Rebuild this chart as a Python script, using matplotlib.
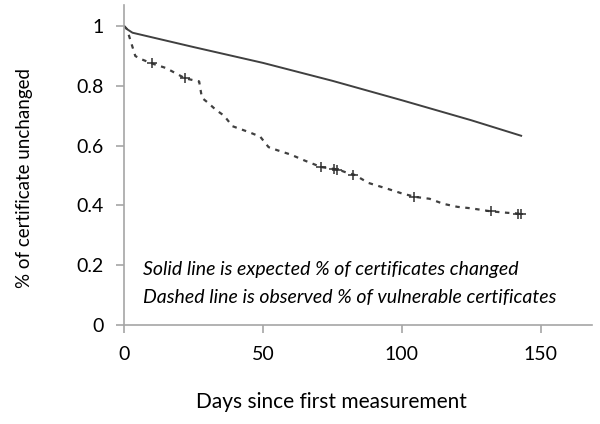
import matplotlib
matplotlib.use("Agg")
import matplotlib.pyplot as plt

# expected curve (solid)
exp_days = [0, 1, 3, 25, 50, 75, 100, 125, 143]
exp_vals = [1.0, 0.99, 0.978, 0.93, 0.877, 0.817, 0.752, 0.685, 0.633]

# observed curve (dashed)
obs_days = [0, 1, 3, 4, 6, 10, 15, 22, 27, 28, 30, 33, 36, 39, 45, 49, 52, 55,
            60, 65, 71, 77, 80, 83, 88, 95, 100, 105, 110, 115, 120, 125, 132,
            138, 143]
obs_vals = [1.0, 0.99, 0.93, 0.9, 0.89, 0.875, 0.86, 0.825, 0.815, 0.76, 0.745,
            0.72, 0.7, 0.665, 0.645, 0.63, 0.595, 0.585, 0.57, 0.55, 0.528, 0.52,
            0.51, 0.502, 0.475, 0.455, 0.44, 0.428, 0.422, 0.405, 0.395, 0.39,
            0.38, 0.375, 0.372]

# censor marks
cens_days = [10, 22, 71, 75.5, 76.5, 82.5, 104.5, 132, 142, 143]
cens_vals = [0.875, 0.825, 0.528, 0.521, 0.519, 0.502, 0.428, 0.38, 0.372, 0.372]

xticks = [0, 50, 100, 150]
yticks = [0, 0.2, 0.4, 0.6, 0.8, 1]
ytick_labels = ["0", "0.2", "0.4", "0.6", "0.8", "1"]

plt.rcParams['font.family'] = ['Lato', 'DejaVu Sans']

fig = plt.figure(figsize=(6, 4.24), dpi=100)
ax = fig.add_axes([0.207, 0.234, 0.78, 0.755])

ax.plot(exp_days, exp_vals, color='#404040', linewidth=1.4, linestyle='-')
ax.plot(obs_days, obs_vals, color='#404040', linewidth=1.6,
        linestyle=(0, (2, 2.5)))
ax.plot(cens_days, cens_vals, linestyle='none', marker='+', markersize=7,
        markeredgewidth=1.1, color='#303030')

ax.set_xlim(0, 168.6)
ax.set_ylim(0, 1.072)
ax.set_xticks(xticks)
ax.set_yticks(yticks)
ax.set_yticklabels(ytick_labels)

for s in ['top', 'right']:
    ax.spines[s].set_visible(False)
for s in ['left', 'bottom']:
    ax.spines[s].set_color('#a6a6a6')
    ax.spines[s].set_linewidth(1.2)
ax.tick_params(direction='out', length=6, width=1.2, color='#a6a6a6',
               labelsize=14, labelcolor='black', pad=9)

ax.set_xlabel("Days since first measurement", fontsize=15, labelpad=22)
ax.xaxis.set_label_coords(0.442, -0.21)
ax.set_ylabel("% of certificate unchanged", fontsize=13.5)
ax.yaxis.set_label_coords(-0.195, 0.46)

ax.text(6.8, 0.167, "Solid line is expected % of certificates changed",
        fontsize=14, style='italic')
ax.text(6.8, 0.073, "Dashed line is observed % of vulnerable certificates",
        fontsize=14, style='italic')

fig.savefig("out.png", dpi=100)
